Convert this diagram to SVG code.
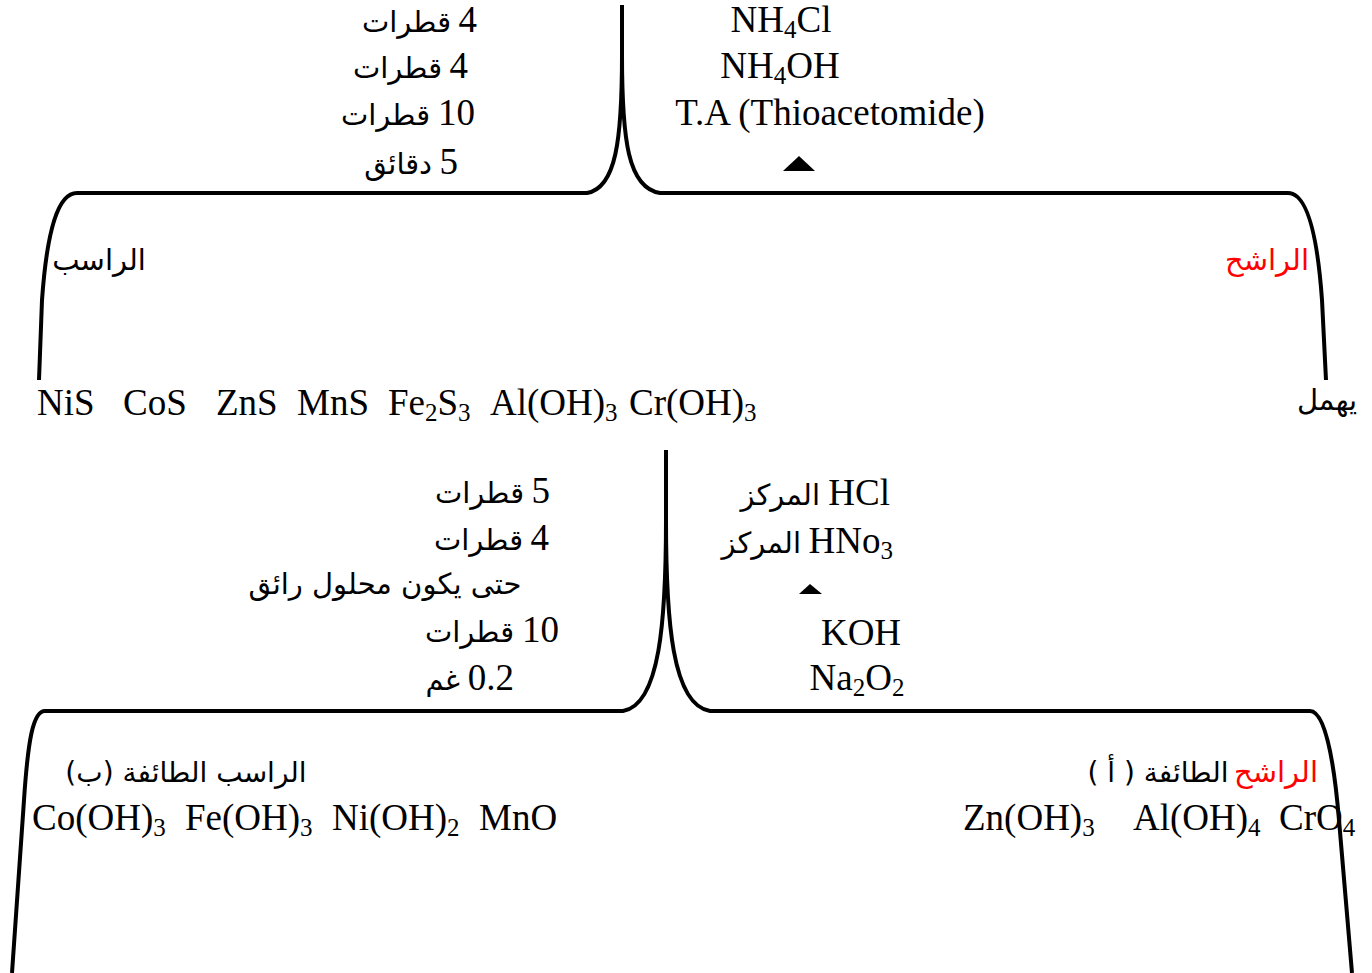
<svg xmlns="http://www.w3.org/2000/svg" width="1372" height="973" viewBox="0 0 1372 973">
<style>
.lat{font-family:"Liberation Serif","Times New Roman",serif;font-size:37px;fill:#000}
.ar{font-family:"DejaVu Sans","Noto Sans",sans-serif;font-size:29px;fill:#000}
.red{fill:#ff0000}
.line{fill:none;stroke:#000;stroke-width:4}
.sub{font-size:25px}
.e{text-anchor:end}
.m{text-anchor:middle}
</style>
<rect width="1372" height="973" fill="#fff"/>
<g id="connectors">
<path class="line" d="M622,5 L622,55 C622,140 616,188 587,193 L77,193 C58,193 47,230 42,300 L39,380"/>
<path class="line" d="M622,55 C622,140 628,188 660,193 L1288,193 C1306,193 1317,230 1322,300 L1326,380"/>
<path class="line" d="M666,450 L666,520 C666,620 660,705 623,711 L45,711 C33,711 28,740 24,800 L12,973"/>
<path class="line" d="M666,520 C666,620 672,705 710,711 L1310,711 C1325,711 1334,760 1339,820 L1352,973"/>
<polygon points="783,171 815,171 799,156" fill="#000"/>
<polygon points="799,594 822,594 810,584" fill="#000"/>
</g>
<g id="reagents-top-left">
<text class="lat e" x="477" y="32">4</text><text class="ar e" x="451" y="32">قطرات</text>
<text class="lat e" x="468" y="78">4</text><text class="ar e" x="442" y="78">قطرات</text>
<text class="lat e" x="475" y="125">10</text><text class="ar e" x="430" y="125">قطرات</text>
<text class="lat e" x="458" y="174">5</text><text class="ar e" x="432" y="174">دقائق</text>
</g>
<g id="reagents-top-right">
<text class="lat m" x="781" y="32">NH<tspan class="sub" dy="6">4</tspan><tspan dy="-6">Cl</tspan></text>
<text class="lat m" x="780" y="78">NH<tspan class="sub" dy="6">4</tspan><tspan dy="-6">OH</tspan></text>
<text class="lat m" x="830" y="125">T.A (Thioacetomide)</text>
</g>
<g id="precipitate1">
<text class="ar m" x="99" y="270">الراسب</text>
<text class="lat" x="37" y="415">NiS</text>
<text class="lat" x="123" y="415">CoS</text>
<text class="lat" x="216" y="415">ZnS</text>
<text class="lat" x="297" y="415">MnS</text>
<text class="lat" x="388" y="415">Fe<tspan class="sub" dy="6">2</tspan><tspan dy="-6">S</tspan><tspan class="sub" dy="6">3</tspan></text>
<text class="lat" x="490" y="415">Al(OH)<tspan class="sub" dy="6">3</tspan></text>
<text class="lat" x="629" y="415">Cr(OH)<tspan class="sub" dy="6">3</tspan></text>
</g>
<g id="filtrate1">
<text class="ar red m" x="1267" y="270">الراشح</text>
<text class="ar m" x="1327" y="410">يهمل</text>
</g>
<g id="reagents-bottom-left">
<text class="lat e" x="550" y="503">5</text><text class="ar e" x="524" y="503">قطرات</text>
<text class="lat e" x="549" y="550">4</text><text class="ar e" x="523" y="550">قطرات</text>
<text class="ar m" x="385" y="594" direction="rtl">حتى يكون محلول رائق</text>
<text class="lat e" x="559" y="642">10</text><text class="ar e" x="514" y="642">قطرات</text>
<text class="lat e" x="514" y="690">0.2</text><text class="ar e" x="460" y="690">غم</text>
</g>
<g id="reagents-bottom-right">
<text class="lat e" x="890" y="505">HCl</text><text class="ar e" x="820" y="505">المركز</text>
<text class="lat e" x="893" y="553">HNo<tspan class="sub" dy="6">3</tspan></text><text class="ar e" x="801" y="553">المركز</text>
<text class="lat m" x="861" y="645">KOH</text>
<text class="lat m" x="857" y="690">Na<tspan class="sub" dy="6">2</tspan><tspan dy="-6">O</tspan><tspan class="sub" dy="6">2</tspan></text>
</g>
<g id="group-b">
<text class="ar m" x="186" y="782" direction="rtl" style="font-size:28px">الراسب الطائفة (ب)</text>
<text class="lat" x="32" y="830">Co(OH)<tspan class="sub" dy="6">3</tspan></text>
<text class="lat" x="185" y="830">Fe(OH)<tspan class="sub" dy="6">3</tspan></text>
<text class="lat" x="332" y="830">Ni(OH)<tspan class="sub" dy="6">2</tspan></text>
<text class="lat" x="479" y="830">MnO</text>
</g>
<g id="group-a">
<text class="ar red e" x="1318" y="782">الراشح</text>
<text class="ar m" x="1158" y="782" direction="rtl" style="font-size:28px">الطائفة ( أ )</text>
<text class="lat" x="963" y="830">Zn(OH)<tspan class="sub" dy="6">3</tspan></text>
<text class="lat" x="1133" y="830">Al(OH)<tspan class="sub" dy="6">4</tspan></text>
<text class="lat" x="1279" y="830">CrO<tspan class="sub" dy="6">4</tspan></text>
</g>
</svg>
